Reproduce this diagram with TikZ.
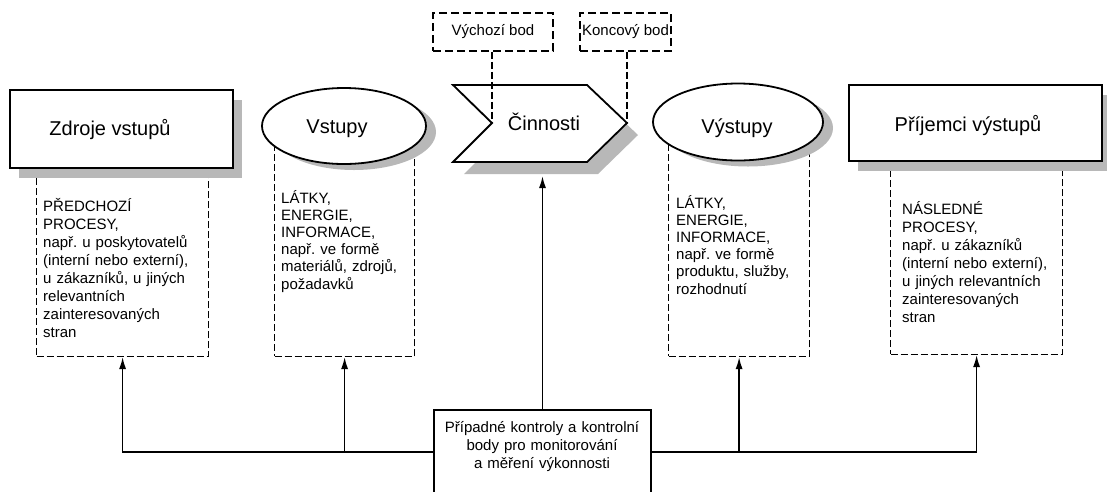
\documentclass[tikz,border=0pt]{standalone}
\usepackage{fontspec}
\setmainfont{Liberation Sans}
\frenchspacing
\usetikzlibrary{shapes.geometric,shadows,arrows.meta}
\definecolor{shc}{HTML}{B8B8B8}
\begin{document}
\frenchspacing
\begin{tikzpicture}[x=1pt,y=-1pt,
  mainbox/.style={draw, line width=1.8pt, fill=white, inner sep=0pt},
  rshadow/.style={general shadow={fill=shc, shadow xshift=9pt, shadow yshift=-10pt}},
  eshadow/.style={general shadow={fill=shc, shadow xshift=10pt, shadow yshift=-6pt}},
  cshadow/.style={general shadow={fill=shc, shadow xshift=11pt, shadow yshift=-12pt}},
  dbox/.style={draw, line width=1.2pt, dash pattern=on 7pt off 3pt, inner sep=0pt},
  pbox/.style={draw, line width=1.5pt, dash pattern=on 8pt off 4pt, inner sep=0pt, font=\fontsize{15}{18}\selectfont},
  ttl/.style={font=\fontsize{20}{24}\selectfont, inner sep=0pt, anchor=base},
  bodytxt/.style={font=\fontsize{15}{18}\selectfont, inner sep=0pt, align=left, anchor=base west},
  conn/.style={line width=1.6pt, -{Latex[length=12pt,width=7pt]}},
  dline/.style={line width=1.2pt, dash pattern=on 7pt off 3pt}
]
\useasboundingbox (0,0) rectangle (1107,491);

% dashed description boxes
\node[dbox, anchor=south west, minimum width=172pt, minimum height=207pt] (d1) at (36,357) {};
\node[dbox, anchor=south west, minimum width=140pt, minimum height=231pt] (d2) at (274,357) {};
\node[dbox, anchor=south west, minimum width=141pt, minimum height=235pt] (d3) at (668,357) {};
\node[dbox, anchor=south west, minimum width=172pt, minimum height=215pt] (d4) at (890,355) {};

% main shapes
\node[mainbox, rshadow, anchor=north west, minimum width=223pt, minimum height=78pt] (src) at (9,89) {};
\node[mainbox, ellipse, eshadow, minimum width=164pt, minimum height=76pt] (inp) at (344,126) {};
\draw[line width=1.8pt, fill=white, cshadow, line join=miter] (453,85) -- (587,85) -- (627,123) -- (587,162) -- (453,162) -- (492,123) -- cycle;
\coordinate (notch) at (492,123);
\coordinate (tip) at (627,123);
\node[mainbox, ellipse, eshadow, minimum width=170pt, minimum height=77pt] (out) at (738,122) {};
\node[mainbox, rshadow, anchor=north west, minimum width=253pt, minimum height=76pt] (rcv) at (848,84) {};

% start / end point boxes
\node[pbox, minimum width=120pt, minimum height=38pt] (vb) at (493,32) {Výchozí bod};
\node[pbox, minimum width=91pt, minimum height=38pt] (kb) at (625.5,32) {Koncový bod};
\draw[dline] (notch |- vb.south) -- (notch);
\draw[dline] (tip |- kb.south) -- (tip);

% titles
\node[ttl] (t1) at (110,135) {Zdroje vstupů};
\node[ttl] (t2) at (337,133) {Vstupy};
\node[ttl] (t3) at (544,130) {Činnosti};
\node[ttl] (t4) at (737,133) {Výstupy};
\node[ttl] (t5) at (968,131) {Příjemci výstupů};

% body texts
\node[bodytxt, text width=160pt] (b1) at (43,211) {PŘEDCHOZÍ\\PROCESY,\\např. u poskytovatelů\\(interní nebo externí),\\u zákazníků, u jiných\\relevantních\\zainteresovaných\\stran};
\node[bodytxt, text width=125pt, font=\fontsize{15}{17.2}\selectfont] (b2) at (281,203) {LÁTKY,\\ENERGIE,\\INFORMACE,\\např. ve formě\\materiálů, zdrojů,\\požadavků};
\node[bodytxt, text width=125pt, font=\fontsize{15}{17.2}\selectfont] (b3) at (676,208) {LÁTKY,\\ENERGIE,\\INFORMACE,\\např. ve formě\\produktu, služby,\\rozhodnutí};
\node[bodytxt, text width=158pt] (b4) at (902,214) {NÁSLEDNÉ\\PROCESY,\\např. u zákazníků\\(interní nebo externí),\\u jiných relevantních\\zainteresovaných\\stran};

% control box
\node[draw, line width=1.8pt, fill=white, inner sep=0pt, minimum width=217pt, minimum height=95pt, anchor=north] (ctrl) at (542.5,409) {};
\node[font=\fontsize{15}{18}\selectfont, text width=210pt, align=center, inner sep=0pt, anchor=base] (ctxt) at (542,432) {Případné kontroly a kontrolní\\body pro monitorování\\a měření výkonnosti};

% connectors
\coordinate (bus) at (0,452);
\coordinate (actbot) at (541,176);
\draw[conn] (ctrl.west |- bus) -| (d1.south);
\draw[conn] (d2.south |- bus) -- (d2.south);
\draw[conn] (ctrl.east |- bus) -| (d4.south);
\draw[conn] (d3.south |- bus) -- (d3.south);
\draw[conn] (ctrl.north) -- (ctrl.north |- actbot);
\end{tikzpicture}
\end{document}
